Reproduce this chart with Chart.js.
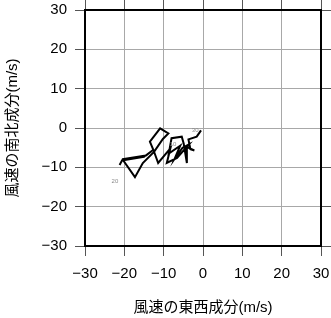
<!DOCTYPE html>
<html>
<head>
<meta charset="utf-8">
<script src="https://cdn.jsdelivr.net/npm/chart.js@4"></script>
<style>
html,body{margin:0;padding:0;background:#fff;}
canvas{display:block;}
</style>
</head>
<body>
<canvas id="c" width="331" height="318"></canvas>
<script>
// Wind components (m/s): east-west (u) and north-south (v)
const uWind = [-0.5,-1.6,-3.7,-3.2,-2.2,-4.2,-4.1,-4.9,-5.4,-8.0,-8.7,-5.8,-7.2,-5.2,-3.6,-6.6,-9.2,-8.3,-11.4,-12.6,-13.5,-10.9,-8.8,-10.2,-12.4,-15.3,-17.3,-20.3,-15.0,-12.7,-14.5,-20.4,-21.2];
const vWind = [-0.6,-2.2,-2.9,-5.4,-5.7,-4.8,-8.9,-4.0,-2.2,-2.6,-6.5,-4.5,-7.8,-5.0,-4.2,-7.6,-8.9,-5.2,-8.9,-5.6,-3.5,-0.1,-1.4,-2.8,-6.0,-8.9,-12.5,-8.2,-7.3,-5.6,-7.0,-7.9,-9.4];
// Height labels along the hodograph
const labelText = ["30","10","20"];
const labelU = [-2.0,-7.6,-22.4];
const labelV = [-0.7,-4.1,-13.5];
// Axis ticks
const tickValues = [-30,-20,-10,0,10,20,30];
const xTitle = "風速の東西成分(m/s)";
const yTitle = "風速の南北成分(m/s)";

const FONT = "'Liberation Sans', 'Noto Sans CJK JP', sans-serif";
const GRID = '#a8a8a8';

const points = uWind.map((u,i)=>({x:u, y:vWind[i]}));

function fmt(v){ return v < 0 ? '\u2212' + Math.abs(v) : String(v); }
function setTicks(scale){ scale.ticks = tickValues.map(v=>({value:v})); }
function noPad(s){ s.paddingLeft = 0; s.paddingRight = 0; s.paddingTop = 0; s.paddingBottom = 0; }

const labelPlugin = {
  id:'hlabels',
  afterDatasetsDraw(chart){
    const ctx = chart.ctx, xs = chart.scales.x, ys = chart.scales.y;
    ctx.save();
    ctx.fillStyle = '#8a8a8a';
    ctx.font = "6px " + FONT;
    ctx.textAlign = 'center';
    ctx.textBaseline = 'middle';
    labelText.forEach((t,i)=>{
      ctx.fillText(t, xs.getPixelForValue(labelU[i]), ys.getPixelForValue(labelV[i]));
    });
    ctx.restore();
  }
};

const baseGrid = {color:GRID, lineWidth:1, tickLength:10, tickColor:'#555', tickWidth:1};
const border = {color:'#000', width:2};

new Chart(document.getElementById('c'), {
  type:'scatter',
  data:{datasets:[{
    data:points, showLine:true, borderColor:'#000', borderWidth:2,
    pointRadius:0, tension:0, fill:false
  }]},
  options:{
    responsive:false, animation:false,
    layout:{padding:0},
    plugins:{legend:{display:false}, tooltip:{enabled:false}},
    scales:{
      x:{type:'linear', position:'bottom', min:-30, max:30,
        afterBuildTicks:setTicks,
        afterFit(s){ s.height = 72; noPad(s); },
        grid:baseGrid, border:border,
        ticks:{color:'#000', padding:9, font:{family:FONT, size:15}, callback:fmt, maxRotation:0},
        title:{display:true, text:xTitle, color:'#000', font:{family:FONT, size:15}, padding:{top:1,bottom:1}}
      },
      y:{type:'linear', position:'left', min:-30, max:30,
        afterBuildTicks:setTicks,
        afterFit(s){ s.width = 85; noPad(s); },
        grid:baseGrid, border:border,
        ticks:{color:'#000', padding:8, font:{family:FONT, size:15}, callback:fmt},
        title:{display:true, text:yTitle, color:'#000', font:{family:FONT, size:15}, padding:{top:3.5,bottom:3.5}}
      },
      x2:{type:'linear', position:'top', min:-30, max:30,
        afterBuildTicks:setTicks,
        afterFit(s){ s.height = 10; noPad(s); },
        grid:Object.assign({}, baseGrid, {drawOnChartArea:false}), border:border,
        ticks:{display:false}
      },
      y2:{type:'linear', position:'right', min:-30, max:30,
        afterBuildTicks:setTicks,
        afterFit(s){ s.width = 10; noPad(s); },
        grid:Object.assign({}, baseGrid, {drawOnChartArea:false}), border:border,
        ticks:{display:false}
      }
    }
  },
  plugins:[labelPlugin]
});
</script>
</body>
</html>
